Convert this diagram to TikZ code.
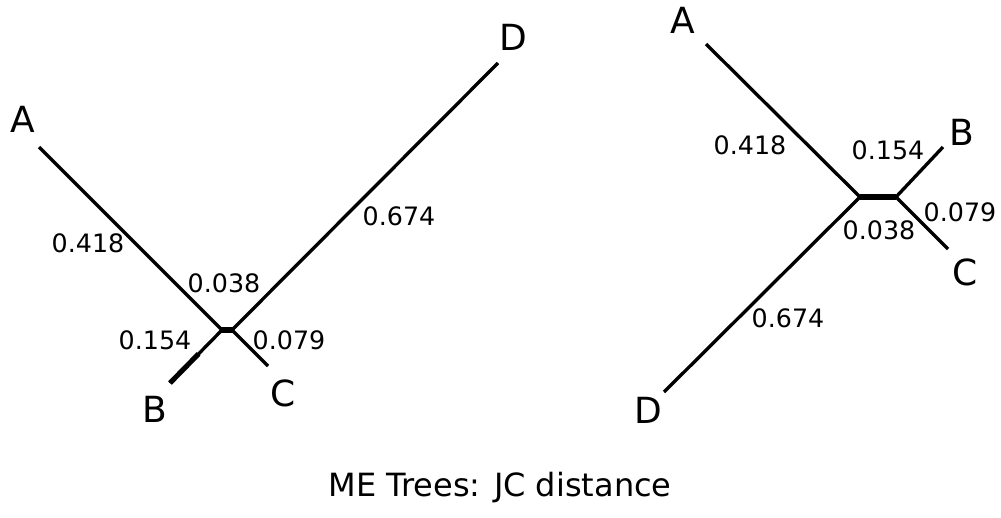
\documentclass[tikz,border=0pt]{standalone}
\usepackage{fontspec}
\setmainfont{DejaVu Sans}
\usetikzlibrary{positioning, calc}
\tikzset{
  branch/.style  = {draw=black, line width=2.5pt, line cap=butt},
  inner/.style   = {draw=black, line width=3.8pt, line cap=butt},
  taxon/.style   = {font=\fontsize{27}{30}\selectfont, inner sep=0pt},
  blen/.style    = {font=\fontsize{19}{22}\selectfont, inner sep=0pt},
  caption/.style = {font=\fontsize{24}{28}\selectfont, inner sep=0pt},
}
\begin{document}
\begin{tikzpicture}[x=0.75pt, y=-0.75pt]
  \useasboundingbox (0,0) rectangle (1001,518);
  % left tree: internal nodes and tips
  \coordinate (lu) at (222,330);
  \coordinate (lv) at (232,330);
  \foreach \i/\x/\y in {lA/39/147, lB/170/383, lC/268/366, lD/498/63} {
    \coordinate (\i) at (\x, \y);
  }
  \draw[branch] (lu) -- (lA);
  \draw[branch] (lu) -- (lB);
  \draw[inner] ($(lu)!0.45!(lB)$) -- (lB);
  \draw[branch] (lv) -- (lC);
  \draw[branch] (lv) -- (lD);
  \draw[inner] ($(lu)+(-1,0)$) -- ($(lv)+(1,0)$);
  \node[taxon] (lAt) at (23,119) {A};
  \node[taxon] (lBt) at (155,409) {B};
  \node[taxon] (lCt) at (283,393) {C};
  \node[taxon] (lDt) at (513,37) {D};
  \node[blen] (lab1) at (88,243) {0.418};
  \node[blen] (lab2) at (224,283) {0.038};
  \node[blen] (lab3) at (155,340) {0.154};
  \node[blen] (lab4) at (289,340) {0.079};
  \node[blen] (lab5) at (399,216) {0.674};

  % right tree
  \coordinate (ru) at (860,197);
  \coordinate (rv) at (896,197);
  \foreach \i/\x/\y in {rA/706/44, rB/943/147, rC/948/249, rD/664/392} {
    \coordinate (\i) at (\x, \y);
  }
  \draw[branch] (ru) -- (rA);
  \draw[branch] (ru) -- (rD);
  \draw[branch] (rv) -- (rB);
  \draw[branch] (rv) -- (rC);
  \draw[inner] (ru) -- (rv);
  \node[taxon] (rAt) at (683,20) {A};
  \node[taxon] (rBt) at (962,132) {B};
  \node[taxon] (rCt) at (965,272) {C};
  \node[taxon] (rDt) at (648,410) {D};
  \node[blen] (rab1) at (750,145) {0.418};
  \node[blen] (rab2) at (888,150) {0.154};
  \node[blen] (rab3) at (960,212) {0.079};
  \node[blen] (rab4) at (879,230) {0.038};
  \node[blen] (rab5) at (788,318) {0.674};

  \node[caption] (title) at (500,488) {ME Trees: JC distance};
\end{tikzpicture}
\end{document}
